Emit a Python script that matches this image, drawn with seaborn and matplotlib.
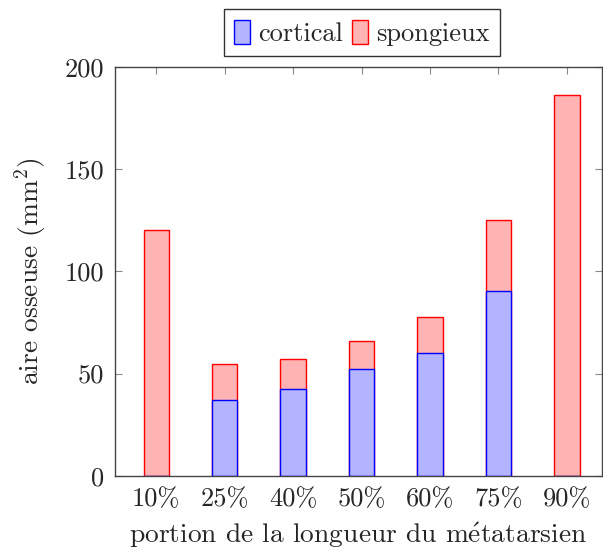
import matplotlib
matplotlib.use("Agg")
import matplotlib.pyplot as plt
import seaborn as sns
import pandas as pd
from matplotlib.patches import Patch

# values
portions = ['10%', '25%', '40%', '50%', '60%', '75%', '90%']
cortical = [0, 37.3, 42.5, 52.0, 60.3, 90.6, 0]
spongieux = [120.0, 17.3, 14.4, 14.1, 17.6, 34.7, 186.3]

df = pd.DataFrame({'portion': portions, 'cortical': cortical, 'spongieux': spongieux})
df['total'] = df['cortical'] + df['spongieux']

sns.set_style('ticks')
plt.rcParams['font.family'] = ['cmr10', 'DejaVu Serif']
plt.rcParams['mathtext.fontset'] = 'cm'
plt.rcParams['axes.unicode_minus'] = False

fs = 19

fig = plt.figure(figsize=(6.03, 5.52), dpi=100)
ax = fig.add_axes([0.191, 0.138, 0.807, 0.741])

blue_fill = '#b3b3ff'
red_fill = '#ffb3b3'

# stacked: draw total in red, then cortical in blue over it
sns.barplot(data=df, x='portion', y='total', color=red_fill, edgecolor='red',
            linewidth=1.0, width=0.37, saturation=1, ax=ax)
sns.barplot(data=df, x='portion', y='cortical', color=blue_fill, edgecolor='blue',
            linewidth=1.0, width=0.37, saturation=1, ax=ax)

ax.set_ylim(0, 200)
ax.set_xlim(-0.6, 6.51)
ax.set_yticks([0, 50, 100, 150, 200])
ax.set_xlabel(r'portion de la longueur du m$\acute{\mathrm{e}}$tatarsien', fontsize=19.8, labelpad=7)
ax.set_ylabel('aire osseuse (mm$^2$)', fontsize=19.8, labelpad=11)

for sp in ax.spines.values():
    sp.set_visible(True)
    sp.set_color('#444444')
    sp.set_linewidth(1.0)

ax.tick_params(axis='both', direction='in', length=5, width=0.8, color='#888888',
               labelsize=fs, top=True, right=True, pad=8)

handles = [Patch(facecolor=blue_fill, edgecolor='blue', label='cortical'),
           Patch(facecolor=red_fill, edgecolor='red', label='spongieux')]
fig.legend(handles=handles, loc='upper center', bbox_to_anchor=(0.6, 0.983),
           ncol=2, frameon=True, fancybox=False, edgecolor='black', fontsize=fs,
           handlelength=0.6, handleheight=1.0, handletextpad=0.3, columnspacing=0.35,
           borderpad=0.4, borderaxespad=0)

fig.savefig('out.png', dpi=100)
